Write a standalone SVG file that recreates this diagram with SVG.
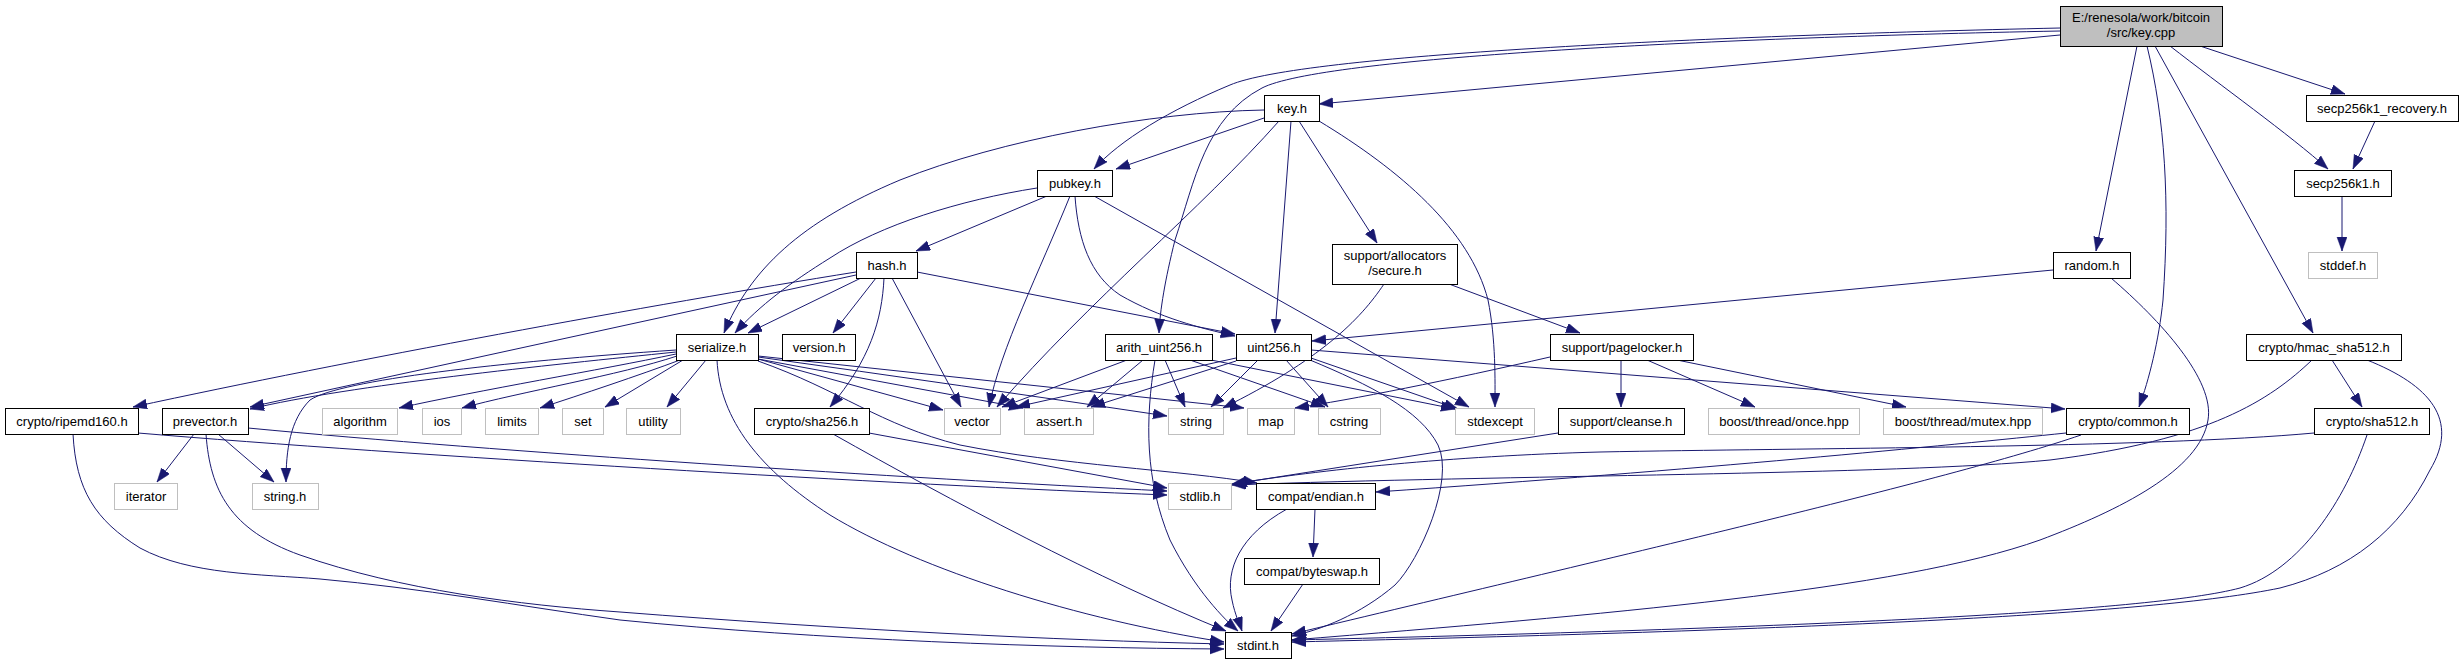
<svg xmlns="http://www.w3.org/2000/svg" width="2463" height="664" viewBox="0 0 2463 664">
<defs>
<marker id="ah" markerUnits="userSpaceOnUse" markerWidth="15" markerHeight="11" refX="14" refY="5" orient="auto">
<path d="M0,0 L14,5 L0,10 z" fill="#191970" stroke="#191970" stroke-width="0.5"/>
</marker>
<style>
.n rect{fill:#fff;stroke:#000;stroke-width:1}
.g rect{fill:#fff;stroke:#bfbfbf;stroke-width:1}
.r rect{fill:#bfbfbf;stroke:#000;stroke-width:1}
text{font-family:"Liberation Sans",Arial,sans-serif;font-size:13px;fill:#000;text-anchor:middle}
.e path{fill:none;stroke:#191970;stroke-width:1;marker-end:url(#ah)}
</style>
</defs>
<rect width="2463" height="664" fill="#fff"/>
<g id="edges" class="e">
<path d="M2060,35 L1319,104"/>
<path d="M2060,28 C1700,36 1300,55 1230,85 C1170,110 1120,140 1094,169"/>
<path d="M2060,31 C1700,38 1320,58 1262,88 C1205,118 1195,180 1175,240 C1165,280 1160,310 1159,333"/>
<path d="M2137,46 L2096,251"/>
<path d="M2147,46 C2165,120 2170,200 2163,300 C2159,340 2149,380 2139,407"/>
<path d="M2155,46 L2313,333"/>
<path d="M2170,46 C2220,85 2290,135 2328,169"/>
<path d="M2200,46 L2345,94"/>
<path d="M2375,121 L2353,169"/>
<path d="M2342,196 L2342,251"/>
<path d="M1264,118 L1116,169"/>
<path d="M1264,110 C1150,112 1000,140 900,180 C800,222 750,270 724,333"/>
<path d="M1279,121 C1200,210 1090,300 997,407"/>
<path d="M1291,121 L1275,333"/>
<path d="M1299,121 L1377,243"/>
<path d="M1319,121 C1400,170 1470,230 1488,300 C1496,340 1495,380 1495,407"/>
<path d="M1047,196 L916,251"/>
<path d="M1037,188 C960,200 880,225 830,258 C790,283 760,305 735,333"/>
<path d="M1070,196 C1040,270 1000,350 989,407"/>
<path d="M1075,196 C1078,240 1090,275 1120,295 C1160,318 1200,328 1235,336"/>
<path d="M1094,196 L1469,407"/>
<path d="M856,272 C650,305 350,360 133,407"/>
<path d="M856,275 L250,407"/>
<path d="M861,278 L748,333"/>
<path d="M876,278 L833,333"/>
<path d="M884,278 C882,320 870,360 830,407"/>
<path d="M892,278 L961,407"/>
<path d="M917,272 L1235,334"/>
<path d="M676,350 C500,362 340,380 310,400 C290,420 286,450 286,482"/>
<path d="M676,352 C550,365 350,385 250,409"/>
<path d="M676,354 C600,370 480,390 399,408"/>
<path d="M677,356 C620,375 520,392 462,408"/>
<path d="M680,360 C640,375 580,395 540,408"/>
<path d="M683,360 L605,407"/>
<path d="M706,360 L667,407"/>
<path d="M717,360 C720,420 760,470 830,515 C920,570 1080,620 1224,642"/>
<path d="M758,359 L943,410"/>
<path d="M758,359 L1023,408"/>
<path d="M758,357 Q960,385 1167,416"/>
<path d="M758,356 L1244,408"/>
<path d="M758,361 C840,390 880,425 960,445 C1060,465 1180,470 1257,483"/>
<path d="M194,434 L157,482"/>
<path d="M218,434 L274,482"/>
<path d="M206,434 C210,490 230,530 300,555 C400,590 520,605 620,612 C850,630 1050,640 1224,644"/>
<path d="M248,428 C500,452 900,478 1167,491"/>
<path d="M138,433 C400,455 900,485 1167,495"/>
<path d="M73,434 C76,490 95,520 140,548 C190,575 260,574 320,579 C420,588 520,606 620,620 C820,640 1050,648 1224,649"/>
<path d="M869,433 L1167,488"/>
<path d="M833,434 C950,500 1100,580 1226,631"/>
<path d="M1127,360 L1002,407"/>
<path d="M1143,360 L1087,407"/>
<path d="M1155,360 C1145,420 1145,480 1170,540 C1195,590 1225,620 1238,631"/>
<path d="M1165,360 L1185,407"/>
<path d="M1190,360 L1325,407"/>
<path d="M1211,360 L1455,409"/>
<path d="M1236,358 L1016,407"/>
<path d="M1236,361 L1091,407"/>
<path d="M1258,360 L1211,407"/>
<path d="M1286,360 L1328,407"/>
<path d="M1311,358 L1458,409"/>
<path d="M1311,350 L2065,409"/>
<path d="M1310,360 C1370,385 1420,410 1438,445 C1455,480 1420,560 1395,585 C1360,615 1320,630 1292,636"/>
<path d="M2053,270 L1312,341"/>
<path d="M2111,278 C2160,320 2215,380 2208,420 C2200,470 2120,510 2040,540 C1900,590 1600,615 1292,640"/>
<path d="M1449,284 L1580,333"/>
<path d="M1384,284 C1360,320 1320,360 1223,408"/>
<path d="M1550,357 C1450,380 1350,400 1295,408"/>
<path d="M1621,360 L1621,407"/>
<path d="M1647,360 L1755,407"/>
<path d="M1677,360 L1906,407"/>
<path d="M1558,433 L1233,484"/>
<path d="M2066,433 C1950,445 1700,470 1376,492"/>
<path d="M2081,435 C1950,480 1600,560 1292,634"/>
<path d="M2332,360 L2362,407"/>
<path d="M2312,360 C2270,400 2210,440 2050,460 C1900,475 1500,475 1232,485"/>
<path d="M2367,360 C2430,385 2460,420 2430,470 C2400,530 2350,570 2280,588 C2150,615 1800,630 1292,642"/>
<path d="M2314,433 C2150,448 1800,448 1600,452 C1450,456 1320,470 1232,484"/>
<path d="M2367,435 C2345,500 2300,570 2240,588 C2150,612 1800,628 1292,640"/>
<path d="M1315,509 L1313,557"/>
<path d="M1287,509 C1240,535 1225,570 1232,600 C1235,615 1240,625 1242,631"/>
<path d="M1303,584 L1271,631"/>
</g>
<g id="n_keycpp" class="r"><rect x="2060.5" y="6.5" width="162" height="40"/><text x="2141" y="22">E:/renesola/work/bitcoin</text><text x="2141" y="37">/src/key.cpp</text></g>
<g id="n_keyh" class="n"><rect x="1264.5" y="95.5" width="55" height="26"/><text x="1292" y="113">key.h</text></g>
<g id="n_secprec" class="n"><rect x="2306.5" y="95.5" width="152" height="26"/><text x="2382" y="113">secp256k1_recovery.h</text></g>
<g id="n_pubkey" class="n"><rect x="1037.5" y="170.5" width="75" height="26"/><text x="1075" y="188">pubkey.h</text></g>
<g id="n_secp" class="n"><rect x="2294.5" y="170.5" width="97" height="26"/><text x="2343" y="188">secp256k1.h</text></g>
<g id="n_hash" class="n"><rect x="856.5" y="252.5" width="61" height="26"/><text x="887" y="270">hash.h</text></g>
<g id="n_secure" class="n"><rect x="1332.5" y="244.5" width="125" height="40"/><text x="1395" y="260">support/allocators</text><text x="1395" y="275">/secure.h</text></g>
<g id="n_random" class="n"><rect x="2053.5" y="252.5" width="77" height="26"/><text x="2092" y="270">random.h</text></g>
<g id="n_stddef" class="g"><rect x="2308.5" y="252.5" width="69" height="26"/><text x="2343" y="270">stddef.h</text></g>
<g id="n_serialize" class="n"><rect x="676.5" y="334.5" width="82" height="26"/><text x="717" y="352">serialize.h</text></g>
<g id="n_version" class="n"><rect x="782.5" y="334.5" width="73" height="26"/><text x="819" y="352">version.h</text></g>
<g id="n_arith" class="n"><rect x="1105.5" y="334.5" width="107" height="26"/><text x="1159" y="352">arith_uint256.h</text></g>
<g id="n_uint256" class="n"><rect x="1236.5" y="334.5" width="75" height="26"/><text x="1274" y="352">uint256.h</text></g>
<g id="n_pagelocker" class="n"><rect x="1550.5" y="334.5" width="143" height="26"/><text x="1622" y="352">support/pagelocker.h</text></g>
<g id="n_hmac" class="n"><rect x="2246.5" y="334.5" width="155" height="26"/><text x="2324" y="352">crypto/hmac_sha512.h</text></g>
<g id="n_ripemd" class="n"><rect x="5.5" y="408.5" width="133" height="26"/><text x="72" y="426">crypto/ripemd160.h</text></g>
<g id="n_prevector" class="n"><rect x="162.5" y="408.5" width="86" height="26"/><text x="205" y="426">prevector.h</text></g>
<g id="n_algorithm" class="g"><rect x="322.5" y="408.5" width="75" height="26"/><text x="360" y="426">algorithm</text></g>
<g id="n_ios" class="g"><rect x="422.5" y="408.5" width="39" height="26"/><text x="442" y="426">ios</text></g>
<g id="n_limits" class="g"><rect x="485.5" y="408.5" width="53" height="26"/><text x="512" y="426">limits</text></g>
<g id="n_set" class="g"><rect x="562.5" y="408.5" width="41" height="26"/><text x="583" y="426">set</text></g>
<g id="n_utility" class="g"><rect x="626.5" y="408.5" width="54" height="26"/><text x="653" y="426">utility</text></g>
<g id="n_sha256" class="n"><rect x="754.5" y="408.5" width="115" height="26"/><text x="812" y="426">crypto/sha256.h</text></g>
<g id="n_vector" class="g"><rect x="944.5" y="408.5" width="56" height="26"/><text x="972" y="426">vector</text></g>
<g id="n_assert" class="g"><rect x="1024.5" y="408.5" width="69" height="26"/><text x="1059" y="426">assert.h</text></g>
<g id="n_string" class="g"><rect x="1168.5" y="408.5" width="55" height="26"/><text x="1196" y="426">string</text></g>
<g id="n_map" class="g"><rect x="1247.5" y="408.5" width="47" height="26"/><text x="1271" y="426">map</text></g>
<g id="n_cstring" class="g"><rect x="1318.5" y="408.5" width="62" height="26"/><text x="1349" y="426">cstring</text></g>
<g id="n_stdexcept" class="g"><rect x="1455.5" y="408.5" width="79" height="26"/><text x="1495" y="426">stdexcept</text></g>
<g id="n_cleanse" class="n"><rect x="1558.5" y="408.5" width="126" height="26"/><text x="1621" y="426">support/cleanse.h</text></g>
<g id="n_once" class="g"><rect x="1708.5" y="408.5" width="151" height="26"/><text x="1784" y="426">boost/thread/once.hpp</text></g>
<g id="n_mutex" class="g"><rect x="1883.5" y="408.5" width="159" height="26"/><text x="1963" y="426">boost/thread/mutex.hpp</text></g>
<g id="n_common" class="n"><rect x="2066.5" y="408.5" width="123" height="26"/><text x="2128" y="426">crypto/common.h</text></g>
<g id="n_sha512" class="n"><rect x="2314.5" y="408.5" width="115" height="26"/><text x="2372" y="426">crypto/sha512.h</text></g>
<g id="n_iterator" class="g"><rect x="114.5" y="483.5" width="63" height="26"/><text x="146" y="501">iterator</text></g>
<g id="n_stringh" class="g"><rect x="252.5" y="483.5" width="66" height="26"/><text x="285" y="501">string.h</text></g>
<g id="n_stdlib" class="g"><rect x="1168.5" y="483.5" width="63" height="26"/><text x="1200" y="501">stdlib.h</text></g>
<g id="n_endian" class="n"><rect x="1256.5" y="483.5" width="119" height="26"/><text x="1316" y="501">compat/endian.h</text></g>
<g id="n_byteswap" class="n"><rect x="1244.5" y="558.5" width="135" height="26"/><text x="1312" y="576">compat/byteswap.h</text></g>
<g id="n_stdint" class="n"><rect x="1225.5" y="632.5" width="66" height="26"/><text x="1258" y="650">stdint.h</text></g>
</svg>
